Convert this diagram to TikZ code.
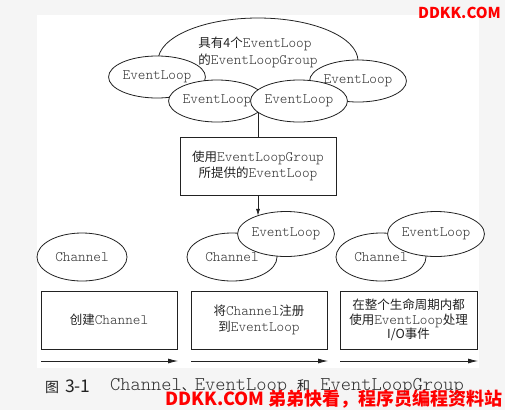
\documentclass[tikz,border=0pt]{standalone}
\usepackage{fontspec}
\setmainfont{Noto Sans CJK SC}
\setmonofont{Latin Modern Mono Light}
\usetikzlibrary{arrows.meta,shapes.geometric}
\definecolor{bgc}{HTML}{F5F5F5}
\definecolor{ln}{HTML}{222222}
\definecolor{tx}{HTML}{222222}
\definecolor{mono}{HTML}{333333}
\definecolor{wmred}{HTML}{FF0000}
\tikzset{
  ell/.style={ellipse, draw=ln, fill=white, line width=0.8pt, inner sep=0pt,
    font=\fontsize{14.5}{15}\selectfont\ttfamily, text=mono},
  smallell/.style={ell, minimum width=81pt, minimum height=42pt},
  chanell/.style={ell, minimum width=90pt, minimum height=48pt},
  bigell/.style={ell, minimum width=200pt, minimum height=86pt},
  stepbox/.style={rectangle, draw=ln, fill=white, line width=0.8pt, inner sep=0pt,
    align=center, text=tx, font=\fontsize{12.5}{16}\selectfont},
  conn/.style={draw=ln, line width=0.8pt},
  arr/.style={conn, -{Latex[length=10pt,width=5pt]}},
  wmark/.style={text=wmred, font=\bfseries, inner sep=0pt}
}
\newcommand{\mt}[1]{{\fontsize{14.5}{15}\selectfont\ttfamily\color{mono}#1}}
\newcommand{\mtc}[1]{{\fontsize{19.5}{20}\selectfont\ttfamily\color{mono}#1}}
\begin{document}
\begin{tikzpicture}[x=1pt,y=-1pt]
\useasboundingbox (0,0) rectangle (505,410);
\fill[bgc] (0,0) rectangle (505,410);
\fill[white] (37,15) rectangle (479,368);

% top group
\node[bigell] (grp) at (258,61) {};
\node[align=left, inner sep=0pt, text=tx, font=\fontsize{12.5}{17}\selectfont] (grptxt) at (258,52)
  {具有4个\mt{EventLoop}\\的\mt{EventLoopGroup}};
\node[smallell] (e1) at (157,77) {EventLoop};
\node[smallell] (e4) at (358,81) {EventLoop};
\node[smallell] (e2) at (217,101) {EventLoop};
\node[smallell] (e3) at (299,101) {EventLoop};

\coordinate (jn) at (258,113);
\node[stepbox, minimum width=156pt, minimum height=58pt] (use) at (258,166)
  {使用\mt{EventLoopGroup}\\所提供的\mt{EventLoop}};
\draw[conn] (jn) -- (use.north);

% lower row
\node[chanell] (c1) at (82,257) {Channel};
\node[chanell] (c2) at (232,257) {Channel};
\node[smallell, minimum height=45pt] (l2) at (286,234) {EventLoop};
\node[chanell] (c3) at (381,257) {Channel};
\node[smallell, minimum height=45pt] (l3) at (436,234) {EventLoop};

\draw[arr, -{Latex[length=7pt,width=4pt]}] (use.south) -- (use.south |- l2.149);

\node[stepbox, minimum width=136pt, minimum height=58pt] (b1) at (109,320)
  {创建\mt{Channel}};
\node[stepbox, minimum width=136pt, minimum height=58pt] (b2) at (259,320)
  {将\mt{Channel}注册\\到\mt{EventLoop}};
\node[stepbox, minimum width=137pt, minimum height=58pt, font=\fontsize{12.5}{14.5}\selectfont] (b3) at (408.5,320)
  {在整个生命周期内都\\使用\mt{EventLoop}处理\\I/O事件};

\coordinate (a1s) at (41,361);  \coordinate (a1e) at (178,361);
\coordinate (a2s) at (191,361); \coordinate (a2e) at (328,361);
\coordinate (a3s) at (340,361); \coordinate (a3e) at (478,361);
\draw[arr] (a1s) -- (a1e);
\draw[arr] (a2s) -- (a2e);
\draw[arr] (a3s) -- (a3e);

% caption
\node[anchor=west, inner sep=0pt, text=tx, font=\fontsize{14}{15}\selectfont] (capn) at (45,387) {图\hspace{6pt}{\fontsize{17.5}{18}\selectfont 3-1}};
\node[anchor=west, inner sep=0pt, text=tx, font=\fontsize{13}{15}\selectfont] (capt) at (110,387)
  {\mtc{Channel}、\mtc{EventLoop }和\mtc{\ EventLoopGroup}};

% watermarks
\node[wmark, anchor=east, font=\bfseries\fontsize{15}{16}\selectfont] (wm1) at (501,13) {DDKK.COM};
\node[wmark, anchor=east, font=\bfseries\fontsize{18}{20}\selectfont] (wm2) at (503,399) {DDKK.COM 弟弟快看，程序员编程资料站};
\end{tikzpicture}
\end{document}
